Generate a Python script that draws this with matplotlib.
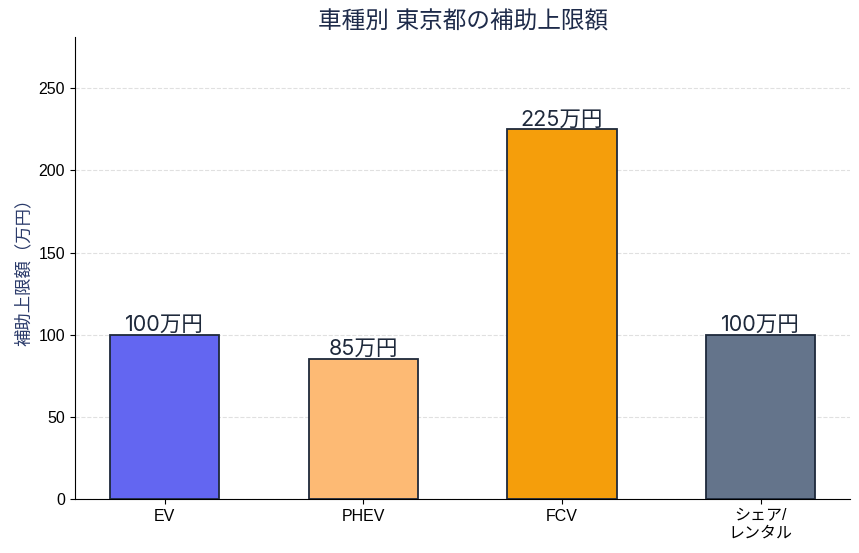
import matplotlib
matplotlib.use("Agg")
import matplotlib.pyplot as plt

plt.rcParams['font.family'] = ['Liberation Sans', 'Noto Sans CJK JP', 'DejaVu Sans']

categories = ['EV', 'PHEV', 'FCV', 'シェア/\nレンタル']
limits = [100, 85, 225, 100]
colors = ['#6366f1', '#fdba74', '#f59e0b', '#64748b']

# digits in the labels and title are wider than the CJK font's own
label_font = ['Inter', 'Noto Sans CJK JP', 'DejaVu Sans']

fig, ax = plt.subplots(figsize=(8.59, 5.53), dpi=100)
bars = ax.bar(categories, limits, width=0.55, color=colors,
              edgecolor='#1e293b', linewidth=1.3, zorder=3)

for b, v in zip(bars, limits):
    ax.text(b.get_x() + b.get_width() / 2, v, f'{v}万円',
            ha='center', va='bottom', fontsize=15.5, color='#1e293b',
            family=label_font, zorder=4)

ax.set_ylim(0, max(limits) * 1.25)
ax.set_title('車種別 東京都の補助上限額', fontsize=17, color='#1e2b4a',
             family=label_font)
ax.set_ylabel('補助上限額（万円）', fontsize=12.5, color='#2a3a6a',
              family=label_font)
ax.tick_params(axis='both', labelsize=11.5)
ax.yaxis.grid(True, linestyle='--', color='#e0e0e0', linewidth=0.8, zorder=0)
ax.spines['top'].set_visible(False)
ax.spines['right'].set_visible(False)

fig.subplots_adjust(left=0.087, right=0.99, top=0.933, bottom=0.098)
fig.savefig('out.png', dpi=100)
